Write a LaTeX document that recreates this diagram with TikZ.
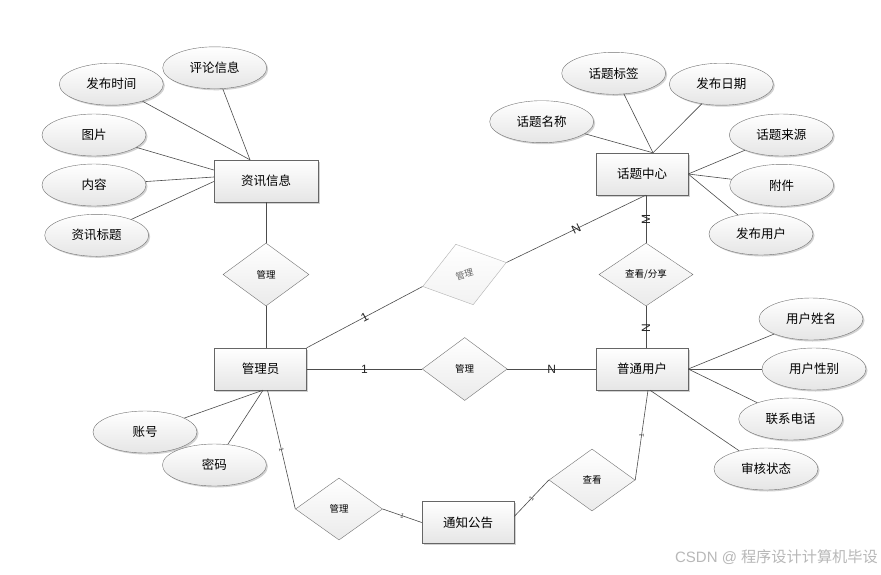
\documentclass[tikz,border=0pt]{standalone}
\usepackage{fontspec}
\setmainfont{Liberation Sans}
\newfontfamily\cjk{Noto Sans CJK SC}
\usetikzlibrary{shapes.geometric,shadows}
\begin{document}
\begin{tikzpicture}[x=1pt,y=-1pt,
  shd/.style={drop shadow={shadow xshift=1.5pt,shadow yshift=-1.5pt,fill=black!40,opacity=0.45}},
  ent/.style={rectangle, draw=black!60, top color=white, bottom color=black!10, minimum width=92pt, minimum height=42pt, inner sep=1pt, font=\cjk\fontsize{12.5}{14}\selectfont, shd},
  attr/.style={ellipse, draw=black!55, top color=white, bottom color=black!10, minimum width=104pt, minimum height=42pt, inner sep=0pt, font=\cjk\fontsize{12.5}{14}\selectfont, shd},
  rel/.style={diamond, draw=black!55, top color=white, bottom color=black!8, minimum width=86pt, minimum height=63pt, inner sep=0pt, font=\cjk\fontsize{9.5}{11}\selectfont},
  conn/.style={draw=black!70, line width=0.6pt},
  card/.style={font=\fontsize{12}{12}\selectfont, inner sep=0pt, text=black!85},
  tinylab/.style={font=\fontsize{6.5}{6.5}\selectfont, inner sep=0pt, sloped, text=black!70}
]
\useasboundingbox (0,0) rectangle (881,574);
\fill[white] (0,0) rectangle (881,574);

% entities
\node[ent, minimum width=104pt] (zx) at (266,181) {资讯信息};
\node[ent] (htzx) at (642,174) {话题中心};
\node[ent] (gly) at (260.5,369) {管理员};
\node[ent] (ptyh) at (642,369) {普通用户};
\node[ent] (tzgg) at (468,522.5) {通知公告};

% relationships
\node[rel] (r1) at (266,274.5) {管理};
\node[rel, rotate=16, minimum width=87pt, draw=black!30, bottom color=black!5, text=black!60, font=\cjk\fontsize{9}{10}\selectfont] (r2) at (464.5,274.5) {管理};
\node[rel, minimum width=94pt] (r3) at (646,274.5) {查看/分享};
\node[rel, minimum width=85pt] (r4) at (464.7,369) {管理};
\node[rel, minimum width=87pt, minimum height=62pt] (r5) at (339,509) {管理};
\node[rel, minimum height=62pt] (r6) at (592,480) {查看};

% attributes
\node[attr] (fbsj) at (111.3,84.2) {发布时间};
\node[attr] (plxx) at (214.7,67.8) {评论信息};
\node[attr] (tp) at (94,135) {图片};
\node[attr] (nr) at (94,185) {内容};
\node[attr] (zxbt) at (96.7,235.3) {资讯标题};

\node[attr] (htbq) at (613.7,73.3) {话题标签};
\node[attr] (fbrq) at (721.3,84.2) {发布日期};
\node[attr] (htmc) at (541.7,121.7) {话题名称};
\node[attr] (htly) at (781.3,135) {话题来源};
\node[attr] (fj) at (781.7,185.3) {附件};
\node[attr] (fbyh) at (761,234) {发布用户};

\node[attr] (yhxm) at (811,319) {用户姓名};
\node[attr] (yhxb) at (814,369) {用户性别};
\node[attr] (lxdh) at (790.7,419) {联系电话};
\node[attr] (shzt) at (766,469) {审核状态};

\node[attr] (zh) at (145,432) {账号};
\node[attr] (mm) at (214.4,465) {密码};

% attribute connectors
\coordinate (zxtop) at ([xshift=-16pt]zx.north);
\draw[conn] (fbsj) -- (zxtop);
\draw[conn] (plxx) -- (zxtop);
\draw[conn] (tp) -- ([yshift=11pt]zx.west);
\draw[conn] (nr) -- ([yshift=4pt]zx.west);
\draw[conn] (zxbt) -- ([yshift=-0.5pt]zx.west);

\coordinate (httop) at ([xshift=11pt]htzx.north);
\draw[conn] (htmc) -- (httop);
\draw[conn] (htbq) -- (httop);
\draw[conn] (fbrq) -- (httop);
\draw[conn] (htly) -- (htzx.east);
\draw[conn] (fj) -- (htzx.east);
\draw[conn] (fbyh) -- (htzx.east);

\draw[conn] (yhxm) -- (ptyh.east);
\draw[conn] (yhxb) -- (ptyh.east);
\draw[conn] (lxdh) -- (ptyh.east);
\draw[conn] (shzt) -- ([xshift=8pt]ptyh.south);

\coordinate (glybot) at ([xshift=2.5pt]gly.south);
\draw[conn] (zh) -- (glybot);
\draw[conn] (mm) -- (glybot);

% relationship connectors
\draw[conn] (zx.south) -- (r1.north);
\draw[conn] (r1.south) -- (r1.south |- gly.north);

\draw[conn] (gly.north east) -- node[card, sloped] {1} (r2.west);
\draw[conn] (r2.east) -- node[card, sloped] {N} ([xshift=3.7pt]htzx.south);

\draw[conn] (r3.north |- htzx.south) -- (r3.north);
\node[card, rotate=90] (lm) at (646,219) {M};
\draw[conn] (r3.south) -- (r3.south |- ptyh.north);
\node[card, rotate=90] (ln) at (646,328) {N};

\draw[conn] (gly.east) -- node[card] {1} (r4.west);
\draw[conn] (r4.east) -- node[card] {N} (ptyh.west);

\draw[conn] ([xshift=7pt]gly.south) -- node[tinylab] {1} (r5.west);
\draw[conn] (r5.east) -- node[tinylab] {1} (tzgg.west);
\draw[conn] ([yshift=6pt]tzgg.east) -- node[tinylab] {1} (r6.west);
\draw[conn] (r6.east) -- node[tinylab] {1} ([xshift=6pt]ptyh.south);

% watermark
\node[anchor=east, inner sep=0pt, text=black!28, font=\fontsize{15}{15}\selectfont] (wm) at (878,557) {CSDN @\hspace{4pt}{\cjk\fontsize{15.2}{15.2}\selectfont 程序设计计算机毕设}};
\end{tikzpicture}
\end{document}
